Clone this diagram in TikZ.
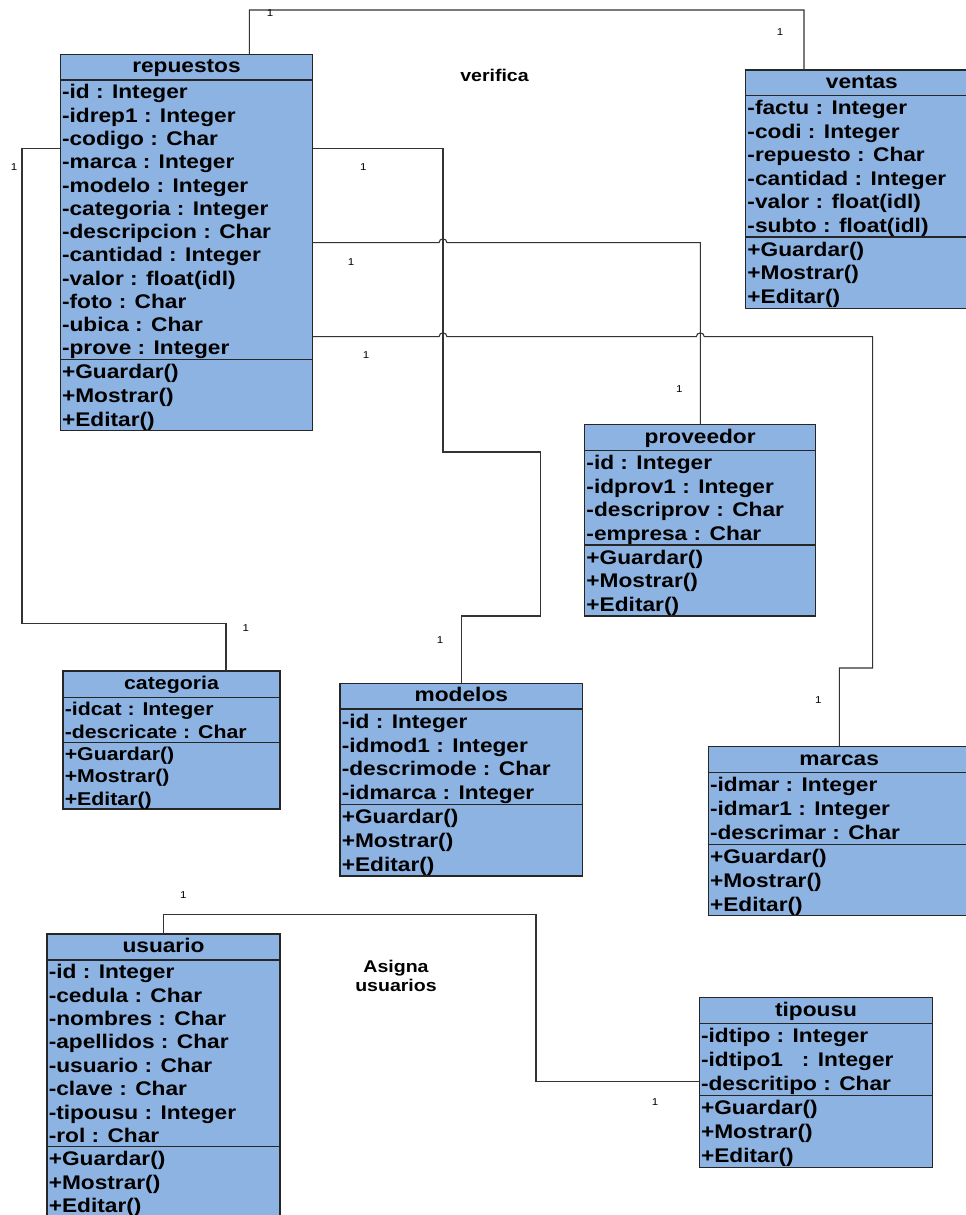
\documentclass[tikz,border=0pt]{standalone}
\usepackage{fontspec}
\setmainfont{Liberation Sans}
\newfontfamily\umlfont[FakeStretch=1.15]{Liberation Sans Bold}
\newfontfamily\umlreg[FakeStretch=1.15]{Liberation Sans}
\usetikzlibrary{fit,calc}

\definecolor{classfill}{HTML}{8DB3E2}
\definecolor{classline}{HTML}{262626}
\definecolor{wire}{HTML}{333333}

\tikzset{
  classframe/.style={draw=classline, fill=classfill, line width=1.1pt, inner sep=0pt, outer sep=0pt},
  divider/.style={draw=classline, line width=1.1pt},
  titletext/.style={font=\umlfont\fontsize{14.8pt}{17pt}\selectfont, anchor=base, inner sep=0pt},
  rowtext/.style={font=\umlfont\fontsize{14.8pt}{17pt}\selectfont, anchor=base west, inner sep=0pt},
  mult/.style={font=\umlreg\fontsize{7.5pt}{9pt}\selectfont, inner sep=0pt},
  assoc/.style={font=\umlfont\fontsize{12.75pt}{14.6pt}\selectfont, anchor=base, inner sep=0pt},
  conn/.style={draw=wire, line width=0.8pt},
}

% #1 name, #2 left, #3 top, #4 right, #5 title rule, #6 attribute rule,
% #7 bottom, #8 class name, #9 attribute list
\newcommand\umlclass[9]{%
  \node[classframe, fit={(#2,#3) (#4,#7)}] (#1) {};
  \draw[divider] (#2,#5) -- (#4,#5) (#2,#6) -- (#4,#6);
  \node[titletext] (#1-name) at ({(#2+#4)/2},{(#3+#5)/2+5.5}) {#8};
  \def\nrows{0}%
  \foreach \attr in {#9}{\xdef\nrows{\the\numexpr\nrows+1\relax}}%
  \foreach \attr [count=\i] in {#9}{%
    \node[rowtext] (#1-a\i) at ({#2+1.5},{#5+(\i-0.5)*(#6-#5)/\nrows+7.3}) {\attr};}
  \foreach \attr [count=\i] in {+Guardar(),+Mostrar(),+Editar()}{%
    \node[rowtext] (#1-m\i) at ({#2+1.5},{#6+(\i-0.5)*(#7-#6)/3+7.3}) {\attr};}
}

\begin{document}
\begin{tikzpicture}[x=0.75pt, y=-0.75pt]
  \fill[white] (0,0) rectangle (966,1215);
  \useasboundingbox (0,0) rectangle (966,1215);

  % classes
  \umlclass{rep}{60.3}{54.3}{312.7}{80}{359.3}{430.7}{repuestos}
    {-id : Integer,-idrep1 : Integer,-codigo : Char,-marca : Integer,-modelo : Integer,
     -categoria : Integer,-descripcion : Char,-cantidad : Integer,-valor : float(idl),
     -foto : Char,-ubica : Char,-prove : Integer}
  \umlclass{ven}{745.7}{70}{978}{95.7}{237}{308.3}{ventas}
    {-factu : Integer,-codi : Integer,-repuesto : Char,-cantidad : Integer,
     -valor : float(idl),-subto : float(idl)}
  \umlclass{pro}{584.7}{424.3}{815.7}{450.7}{545}{616}{proveedor}
    {-id : Integer,-idprov1 : Integer,-descriprov : Char,-empresa : Char}
  \begin{scope}
    \tikzset{
      titletext/.append style={font=\umlfont\fontsize{13.9pt}{16pt}\selectfont},
      rowtext/.append style={font=\umlfont\fontsize{13.9pt}{16pt}\selectfont}}
    \umlclass{cat}{63}{671}{280}{697.3}{742.3}{809}{categoria}
      {-idcat : Integer,-descricate : Char}
  \end{scope}
  \umlclass{mod}{340}{683.3}{582.7}{709}{804.3}{876}{modelos}
    {-id : Integer,-idmod1 : Integer,-descrimode : Char,-idmarca : Integer}
  \umlclass{mar}{708.3}{746.7}{970}{772.3}{844.3}{915.7}{marcas}
    {-idmar : Integer,-idmar1 : Integer,-descrimar : Char}
  \umlclass{usu}{47}{934}{280}{960}{1146.7}{1217}{usuario}
    {-id : Integer,-cedula : Char,-nombres : Char,-apellidos : Char,-usuario : Char,
     -clave : Char,-tipousu : Integer,-rol : Char}
  \umlclass{tip}{699.3}{997.7}{932.7}{1023.3}{1095.7}{1167.3}{tipousu}
    {-idtipo : Integer,-idtipo1~~~: Integer,-descritipo : Char}

  % associations
  \draw[conn] ($(rep.north west)+(189,0)$) |- (804,10) -- ($(ven.north west)+(58.3,0)$);
  \draw[conn] ($(rep.north west)+(0,94)$) -| (22,623.3) -| ($(cat.north west)+(163,0)$);
  \draw[conn] ($(rep.north east)+(0,94)$) -| (443,452) -| (540.7,616)
              -| ($(mod.north west)+(121.7,0)$);
  \draw[conn] ($(rep.north east)+(0,188.4)$) -- (439,242.7)
              .. controls (439,237.7) and (447,237.7) .. (447,242.7)
              -| ($(pro.north west)+(115.6,0)$);
  \draw[conn] ($(rep.north east)+(0,282.4)$) -- (439,336.7)
              .. controls (439,331.7) and (447,331.7) .. (447,336.7) -- (696.3,336.7)
              .. controls (696.3,331.7) and (704.3,331.7) .. (704.3,336.7)
              -| (872.7,668) -| ($(mar.north west)+(131,0)$);
  \draw[conn] ($(usu.north west)+(116.3,0)$) |- (536,914.3) |- ($(tip.north west)+(0,84)$);

  % multiplicities
  \node[mult] (m1)  at (270,13.3)    {1};
  \node[mult] (m2)  at (780,32.3)    {1};
  \node[mult] (m3)  at (14,167.3)    {1};
  \node[mult] (m4)  at (363.3,167.3) {1};
  \node[mult] (m5)  at (351,261.7)   {1};
  \node[mult] (m6)  at (366,355.3)   {1};
  \node[mult] (m7)  at (679.3,389)   {1};
  \node[mult] (m8)  at (245.7,628.3) {1};
  \node[mult] (m9)  at (440,640)     {1};
  \node[mult] (m10) at (818.3,700)   {1};
  \node[mult] (m11) at (183.3,895)   {1};
  \node[mult] (m12) at (655,1101.7)  {1};

  % association names
  \node[assoc] (verifica) at (494.5,81) {verifica};
  \node[assoc] (asigna1) at (396,972.7) {Asigna};
  \node[assoc] (asigna2) at (396,991.7) {usuarios};
\end{tikzpicture}
\end{document}
